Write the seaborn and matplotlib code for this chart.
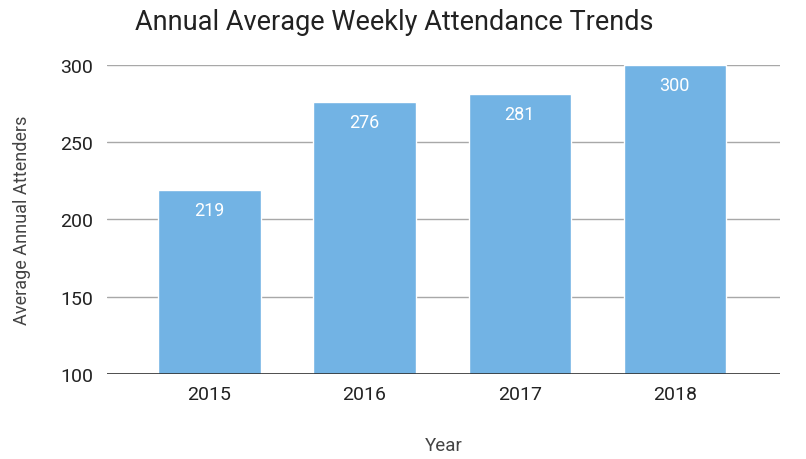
import matplotlib
matplotlib.use('Agg')
import matplotlib.pyplot as plt
import seaborn as sns
import pandas as pd

years = ['2015', '2016', '2017', '2018']
attenders = [219, 276, 281, 300]

sns.set_theme(style='white')
plt.rcParams['font.family'] = ['Roboto', 'DejaVu Sans']

df = pd.DataFrame({'Year': years, 'Attenders': attenders})

fig = plt.figure(figsize=(8.06, 4.6), dpi=100)
ax = fig.add_axes([0.133, 0.185, 0.835, 0.672])

sns.barplot(data=df, x='Year', y='Attenders', color='#72b3e4', saturation=1,
            width=0.66, ax=ax, zorder=3)

for i, v in enumerate(attenders):
    ax.text(i, v - 7, str(v), ha='center', va='top', color='white', fontsize=13, zorder=4)

ax.set_ylim(100, 300)
ax.set_xlim(-0.66, 3.68)
ax.set_yticks([100, 150, 200, 250, 300])
ax.yaxis.grid(True, color='#a8a8a8', linewidth=1, zorder=0)
ax.axhline(100, color='#333333', linewidth=1.2, zorder=5)
for s in ax.spines.values():
    s.set_visible(False)
ax.tick_params(axis='both', length=0, labelsize=14, labelcolor='#222222')
ax.tick_params(axis='y', pad=10)
ax.tick_params(axis='x', pad=8)

ax.set_xlabel('Year', fontsize=13.5, color='#444444', labelpad=24)
ax.set_ylabel('Average Annual Attenders', fontsize=13, color='#444444', labelpad=21)
fig.text(0.167, 0.952, 'Annual Average Weekly Attendance Trends', fontsize=19.5,
         color='#222222', ha='left', va='center')

fig.savefig('out.png', dpi=100)
